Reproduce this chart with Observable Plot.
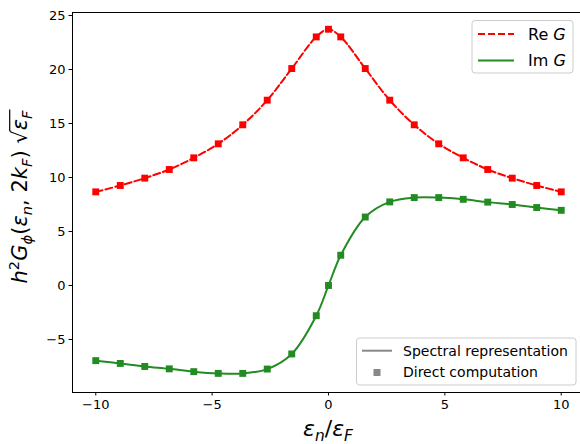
<!DOCTYPE html>
<html>
<head>
<meta charset="utf-8">
<script src="https://cdn.jsdelivr.net/npm/d3@7"></script>
<script src="https://cdn.jsdelivr.net/npm/@observablehq/plot@0.6"></script>
<style>
  body { margin: 0; background: #fff; overflow: hidden; }
  #chart { width: 580px; height: 444px; }
</style>
</head>
<body>
<div id="chart"></div>
<script>
// Matsubara frequencies ε_n/ε_F at which G_φ(ε_n, 2k_F) was evaluated
const eps = [-10, -8.947, -7.895, -6.842, -5.789, -4.737, -3.684, -2.632, -1.579, -0.526, 0,
             0.526, 1.579, 2.632, 3.684, 4.737, 5.789, 6.842, 7.895, 8.947, 10];
// h² G_φ √ε_F, real part
const reG = [8.67, 9.26, 9.94, 10.74, 11.82, 13.12, 14.88, 17.16, 20.09, 23.02, 23.73,
             23.02, 20.09, 17.16, 14.88, 13.12, 11.82, 10.74, 9.94, 9.26, 8.67];
// h² G_φ √ε_F, imaginary part
const imG = [-6.96, -7.22, -7.5, -7.72, -7.98, -8.14, -8.14, -7.74, -6.34, -2.8, 0,
             2.8, 6.34, 7.74, 8.14, 8.14, 7.98, 7.72, 7.5, 7.22, 6.96];

const xTicks = [-10, -5, 0, 5, 10];
const yTicks = [-5, 0, 5, 10, 15, 20, 25];
const partLabels = ["Re", "Im"];
const methodLabels = ["Spectral representation", "Direct computation"];

const RED = "#ff0000", GREEN = "#228b22", GRAY = "#888888";
const DASH = "7,3";

const reRows = eps.map((e, i) => ({e, v: reG[i]}));
const imRows = eps.map((e, i) => ({e, v: imG[i]}));

const plot = Plot.plot({
  width: 580,
  height: 444,
  marginLeft: 72,
  marginTop: 12,
  marginBottom: 52,
  marginRight: -4,
  style: {fontFamily: "DejaVu Sans", fontSize: "13px", color: "#000", background: "#fff"},
  x: {domain: [-11, 11], ticks: xTicks, tickSize: 3.5, tickPadding: 3.5, tickFormat: d3.format("d"), label: null},
  y: {domain: [-9.91, 25.28], ticks: yTicks, tickSize: 3.5, tickPadding: 3.5, tickFormat: d3.format("d"), label: null},
  marks: [
    Plot.line(reRows, {x: "e", y: "v", stroke: RED, strokeWidth: 2, strokeDasharray: DASH, curve: "catmull-rom"}),
    Plot.line(imRows, {x: "e", y: "v", stroke: GREEN, strokeWidth: 2, curve: "catmull-rom"}),
    Plot.dot(reRows, {x: "e", y: "v", symbol: "square", r: 3.9, fill: RED, stroke: null}),
    Plot.dot(imRows, {x: "e", y: "v", symbol: "square", r: 3.9, fill: GREEN, stroke: null}),
    Plot.frame({stroke: "#000", strokeWidth: 1})
  ]
});
document.getElementById("chart").append(plot);

const svg = d3.select(plot);

// Text built from pieces: italic variables, sub- and superscripts
function richText(parent, pieces, size, anchor = "start") {
  const text = parent.append("text")
    .attr("font-family", "DejaVu Sans")
    .attr("font-size", size)
    .attr("text-anchor", anchor)
    .attr("fill", "#000");
  let shift = 0;
  pieces.forEach(p => {
    const target = p.sub ? size * 0.22 : p.sup ? -size * 0.4 : 0;
    text.append("tspan")
      .attr("dy", target - shift)
      .attr("font-size", (p.sub || p.sup) ? size * 0.7 : size)
      .attr("font-style", p.it ? "italic" : "normal")
      .text(p.t);
    shift = target;
  });
  return text;
}

// x-axis label ε_n/ε_F
richText(svg.append("g").attr("transform", "translate(328,436)"), [
  {t: "ε", it: 1}, {t: "n", it: 1, sub: 1}, {t: "/"}, {t: "ε", it: 1}, {t: "F", it: 1, sub: 1}
], 22, "middle");

// y-axis label h²G_φ(ε_n, 2k_F) √ε_F
const yl = svg.append("g").attr("transform", "translate(27,197) rotate(-90)");
const yPieces = [
  {t: "h", it: 1}, {t: "2", sup: 1}, {t: "G", it: 1}, {t: "ϕ", it: 1, sub: 1},
  {t: "("}, {t: "ε", it: 1}, {t: "n", it: 1, sub: 1}, {t: ", 2"}, {t: "k", it: 1}, {t: "F", it: 1, sub: 1},
  {t: ") √"}, {t: "ε", it: 1}, {t: "F", it: 1, sub: 1}
];
const ylText = richText(yl, yPieces, 21);
{
  const node = ylText.node();
  const len = node.getComputedTextLength();
  ylText.attr("x", -len / 2);
  const full = yPieces.map(p => p.t).join("");
  const iRoot = full.indexOf("√");
  const rootEnd = node.getEndPositionOfChar(iRoot).x;
  const last = node.getEndPositionOfChar(full.length - 1).x;
  yl.append("line")
    .attr("x1", rootEnd - 1).attr("x2", last + 1)
    .attr("y1", -17.3).attr("y2", -17.3)
    .attr("stroke", "#000").attr("stroke-width", 1.2);
}

// Legend for the two parts of G
const lg1 = svg.append("g");
lg1.append("rect")
  .attr("x", 472).attr("y", 20.5).attr("width", 101).attr("height", 52.5).attr("rx", 3)
  .attr("fill", "#fff").attr("fill-opacity", 0.8).attr("stroke", "#cccccc");
[[RED, DASH, 34], [GREEN, null, 60.5]].forEach(([c, dash, yy], i) => {
  lg1.append("line").attr("x1", 478).attr("x2", 514).attr("y1", yy).attr("y2", yy)
    .attr("stroke", c).attr("stroke-width", 2).attr("stroke-dasharray", dash);
  richText(lg1.append("g").attr("transform", `translate(528,${yy + 5.8})`),
    [{t: partLabels[i] + " "}, {t: "G", it: 1}], 16);
});

// Legend for the two methods
const lg2 = svg.append("g");
lg2.append("rect")
  .attr("x", 356.5).attr("y", 338).attr("width", 219.5).attr("height", 47).attr("rx", 3)
  .attr("fill", "#fff").attr("fill-opacity", 0.8).attr("stroke", "#cccccc");
lg2.append("line").attr("x1", 362).attr("x2", 392).attr("y1", 350.7).attr("y2", 350.7)
  .attr("stroke", GRAY).attr("stroke-width", 2);
lg2.append("rect").attr("x", 373.5).attr("y", 369).attr("width", 7).attr("height", 7).attr("fill", GRAY);
methodLabels.forEach((t, i) => {
  lg2.append("text").attr("x", 403).attr("y", [350.7, 372.3][i] + 5)
    .attr("font-family", "DejaVu Sans").attr("font-size", 14)
    .attr("text-anchor", "start").attr("fill", "#000").text(t);
});
</script>
</body>
</html>
